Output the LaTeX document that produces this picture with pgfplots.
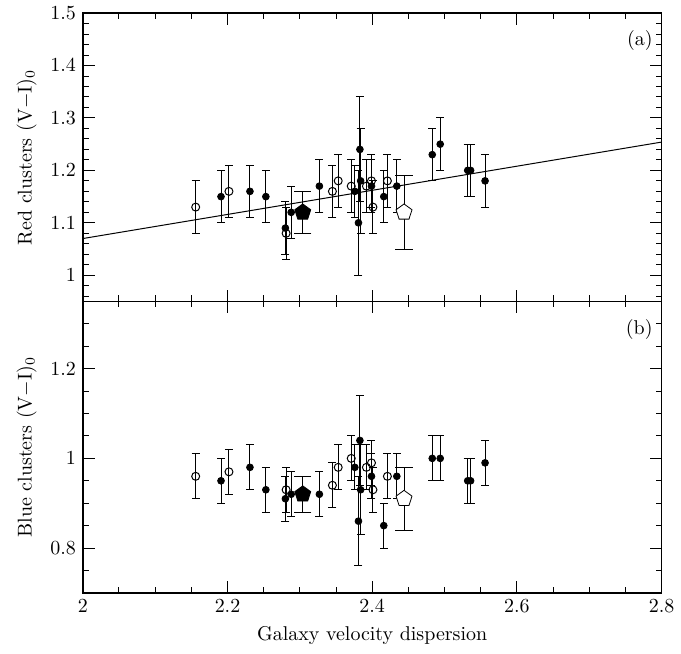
\documentclass[border=0pt]{standalone}
\usepackage{pgfplots}
\pgfplotsset{compat=1.18}
\usepackage{pgfplotstable}

% red clusters (top) and blue clusters (bottom): x, colour, error
\pgfplotstableread{
x y e
2.191 1.15 0.05
2.231 1.16 0.05
2.253 1.15 0.05
2.280 1.09 0.05
2.288 1.12 0.05
2.327 1.17 0.05
2.376 1.16 0.05
2.381 1.10 0.10
2.383 1.24 0.10
2.384 1.18 0.10
2.399 1.17 0.05
2.416 1.15 0.05
2.434 1.17 0.05
2.483 1.23 0.05
2.494 1.25 0.05
2.532 1.20 0.05
2.536 1.20 0.05
2.556 1.18 0.05
}\redfilled
\pgfplotstableread{
x y e
2.156 1.13 0.05
2.202 1.16 0.05
2.281 1.08 0.05
2.345 1.16 0.05
2.353 1.18 0.05
2.371 1.17 0.05
2.392 1.17 0.05
2.399 1.18 0.05
2.401 1.13 0.05
2.421 1.18 0.05
}\redopen
\pgfplotstableread{
x y e
2.191 0.95 0.05
2.231 0.98 0.05
2.253 0.93 0.05
2.280 0.91 0.05
2.288 0.92 0.05
2.327 0.92 0.05
2.376 0.98 0.05
2.381 0.86 0.10
2.383 1.04 0.10
2.384 0.93 0.10
2.399 0.96 0.05
2.416 0.85 0.05
2.434 0.96 0.05
2.483 1.00 0.05
2.494 1.00 0.05
2.532 0.95 0.05
2.536 0.95 0.05
2.556 0.99 0.05
}\bluefilled
\pgfplotstableread{
x y e
2.156 0.96 0.05
2.202 0.97 0.05
2.281 0.93 0.05
2.345 0.94 0.05
2.353 0.98 0.05
2.371 1.00 0.05
2.392 0.98 0.05
2.399 0.99 0.05
2.401 0.93 0.05
2.421 0.96 0.05
}\blueopen

\pgfplotsset{
  panel/.style={
    width=290pt, scale only axis,
    xmin=2, xmax=2.8,
    xtick={2,2.2,...,2.8},
    minor xtick={2.05,2.1,2.15,2.25,2.3,2.35,2.45,2.5,2.55,2.65,2.7,2.75},
    tick pos=both, tick align=inside,
    major tick length=6pt, minor tick length=3pt,
    every tick/.style={black, line width=0.5pt},
    axis line style={line width=0.7pt},
    tick label style={font=\normalsize},
    label style={font=\normalsize},
  },
  pts/.style={only marks, black, mark size=1.7pt,
    error bars/y dir=both, error bars/y explicit,
    error bars/error bar style={black, line width=0.5pt},
    error bars/error mark=-,
    error bars/error mark options={black, rotate=90, mark size=2pt, line width=0.5pt}},
  big/.style={only marks, black, mark size=4.2pt,
    error bars/y dir=both, error bars/y explicit,
    error bars/error bar style={black, line width=0.5pt},
    error bars/error mark=-,
    error bars/error mark options={black, rotate=90, mark size=4.3pt, line width=0.5pt}},
}

\begin{document}
\begin{tikzpicture}
\begin{axis}[panel, name=top, height=144.5pt,
  ymin=0.95, ymax=1.5,
  ytick={1,1.1,1.2,1.3,1.4,1.5},
  minor ytick={0.96,0.98,1.02,1.04,1.06,1.08,1.12,1.14,1.16,1.18,1.22,1.24,1.26,1.28,1.32,1.34,1.36,1.38,1.42,1.44,1.46,1.48},
  xticklabels={},
  ylabel={Red clusters (V$-$I)$_0$},
]
\addplot[black, line width=0.5pt] coordinates {(2,1.070) (2.8,1.254)};
\addplot[pts, mark=*, mark options={draw=black, fill=black}] table[x=x, y=y, y error=e] {\redfilled};
\addplot[pts, mark=o, mark size=2pt, mark options={draw=black, line width=0.5pt}] table[x=x, y=y, y error=e] {\redopen};
\addplot[big, mark=pentagon*, mark options={draw=black, fill=black}] coordinates {(2.304,1.12) +- (0,0.04)};
\addplot[big, mark=pentagon*, mark options={draw=black, fill=white}] coordinates {(2.444,1.12) +- (0,0.07)};
\node[anchor=north east, inner sep=0pt] at (rel axis cs:0.985,0.94) {(a)};
\end{axis}
\begin{axis}[panel, name=bot, at={(top.south west)}, anchor=north west, height=146pt,
  ymin=0.7, ymax=1.35,
  ytick={0.8,1,1.2},
  minor ytick={0.75,0.85,0.9,0.95,1.05,1.1,1.15,1.25,1.3},
  xlabel={Galaxy velocity dispersion},
  ylabel={Blue clusters (V$-$I)$_0$},
]
\addplot[pts, mark=*, mark options={draw=black, fill=black}] table[x=x, y=y, y error=e] {\bluefilled};
\addplot[pts, mark=o, mark size=2pt, mark options={draw=black, line width=0.5pt}] table[x=x, y=y, y error=e] {\blueopen};
\addplot[big, mark=pentagon*, mark options={draw=black, fill=black}] coordinates {(2.304,0.92) +- (0,0.04)};
\addplot[big, mark=pentagon*, mark options={draw=black, fill=white}] coordinates {(2.444,0.91) +- (0,0.07)};
\node[anchor=north east, inner sep=0pt] at (rel axis cs:0.985,0.94) {(b)};
\end{axis}
\path (top.north west) ++(-41.5pt,6.5pt) coordinate (tl);
\path (bot.south east) ++(9pt,-30.5pt) coordinate (br);
\path (tl) rectangle (br);
\end{tikzpicture}
\end{document}
